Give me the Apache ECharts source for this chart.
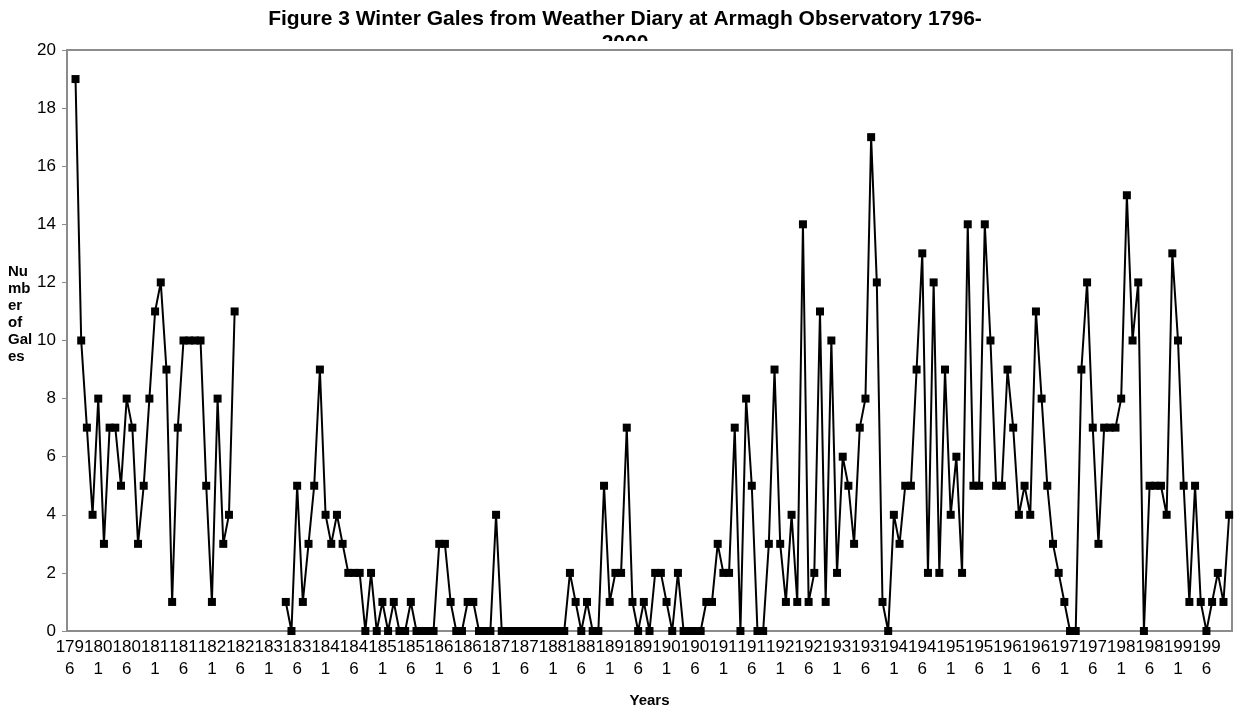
<!DOCTYPE html>
<html>
<head>
<meta charset="utf-8">
<title>Winter Gales</title>
<script src="https://cdn.jsdelivr.net/npm/echarts@6/dist/echarts.min.js"></script>
<style>
  html, body { margin: 0; padding: 0; background: #fff; }
  #chart { width: 1243px; height: 713px; }
</style>
</head>
<body>
<div id="chart"></div>
<script>
// categories 1796-2000, one per winter
var years = [];
for (var y = 1796; y <= 2000; y++) years.push(String(y));

// number of gales per winter (null = no point plotted)
var noPoint1796 = [null];
var gales1797 = [19, 10, 7, 4, 8, 3, 7, 7, 5, 8, 7, 3, 5, 8, 11, 12, 9, 1, 7, 10,
  10, 10, 10, 5, 1, 8, 3, 4, 11];
var noRecord1826 = [null, null, null, null, null, null, null, null];
var gales1834 = [1, 0, 5, 1, 3, 5, 9, 4, 3, 4, 3, 2, 2, 2, 0, 2, 0, 1, 0, 1,
  0, 0, 1, 0, 0, 0, 0, 3, 3, 1, 0, 0, 1, 1, 0, 0, 0, 4];
var gales1872 = [0, 0, 0, 0, 0, 0, 0, 0, 0, 0, 0, 0];
var gales1884 = [2, 1, 0, 1, 0, 0, 5, 1, 2, 2, 7, 1, 0, 1, 0, 2, 2, 1, 0, 2,
  0, 0, 0, 0, 1, 1, 3, 2, 2, 7, 0, 8, 5, 0, 0, 3, 9, 3, 1, 4,
  1, 14, 1, 2, 11, 1, 10, 2, 6, 5, 3, 7, 8, 17, 12, 1, 0, 4];
var gales1942 = [3, 5, 5, 9, 13, 2, 12, 2, 9, 4, 6, 2, 14, 5, 5, 14, 10, 5, 5, 9,
  7, 4, 5, 4, 11, 8, 5, 3, 2, 1, 0, 0, 9, 12, 7, 3, 7, 7, 7, 8,
  15, 10, 12, 0, 5, 5, 5, 4, 13, 10, 5, 1, 5, 1, 0, 1, 2, 1, 4];

var gales = [].concat(noPoint1796, gales1797, noRecord1826, gales1834,
  gales1872, gales1884, gales1942);

var yTicks = { min: 0, max: 20, interval: 2 };

var chart = echarts.init(document.getElementById("chart"));
chart.setOption({
  animation: false,
  backgroundColor: "#ffffff",
  textStyle: { fontFamily: "Liberation Sans, Arial, sans-serif" },
  title: {
    text: "Figure 3 Winter Gales from Weather Diary at Armagh Observatory 1796-\n2000",
    left: 620,
    top: 2,
    textAlign: "center",
    z: -5,
    textStyle: {
      fontSize: 21,
      fontWeight: "bold",
      color: "#000",
      lineHeight: 24
    }
  },
  graphic: [
    // the plot area hides the lower half of the wrapped title line
    {
      type: "rect",
      z: 1,
      shape: { x: 60, y: 41, width: 1183, height: 8 },
      style: { fill: "#ffffff" }
    },
    // y axis title, wrapped the way the original wraps it
    {
      type: "text",
      left: 8,
      top: 263,
      style: {
        text: "Nu\nmb\ner\nof\nGal\nes",
        font: "bold 15px 'Liberation Sans', Arial, sans-serif",
        fill: "#000",
        lineHeight: 17
      }
    }
  ],
  grid: {
    left: 67,
    right: 11,
    top: 50,
    bottom: 78,
    show: true,
    backgroundColor: "#ffffff",
    borderColor: "#8c8c8c",
    borderWidth: 2
  },
  xAxis: {
    type: "category",
    data: years,
    boundaryGap: true,
    name: "Years",
    nameLocation: "middle",
    nameGap: 62,
    nameTextStyle: { fontSize: 15, fontWeight: "bold", color: "#000" },
    axisLine: { lineStyle: { color: "#8c8c8c", width: 2 } },
    axisTick: { interval: 0, length: 4, lineStyle: { color: "#8c8c8c" } },
    axisLabel: {
      interval: 4,
      fontSize: 17,
      color: "#000",
      lineHeight: 22,
      margin: 5,
      formatter: function (v) {
        return v.slice(0, 3) + "\n" + v.slice(3);
      }
    },
    splitLine: { show: false }
  },
  yAxis: {
    type: "value",
    min: yTicks.min,
    max: yTicks.max,
    interval: yTicks.interval,
    axisLine: { show: true, lineStyle: { color: "#8c8c8c", width: 2 } },
    axisTick: { show: true, length: 5, lineStyle: { color: "#8c8c8c" } },
    axisLabel: { fontSize: 17, color: "#000", margin: 11 },
    splitLine: { show: false }
  },
  series: [
    {
      name: "Winter gales",
      type: "line",
      data: gales,
      connectNulls: false,
      showAllSymbol: true,
      symbol: "rect",
      symbolSize: 8,
      z: 3,
      itemStyle: { color: "#000" },
      lineStyle: { color: "#000", width: 2 }
    }
  ]
});
</script>
</body>
</html>
